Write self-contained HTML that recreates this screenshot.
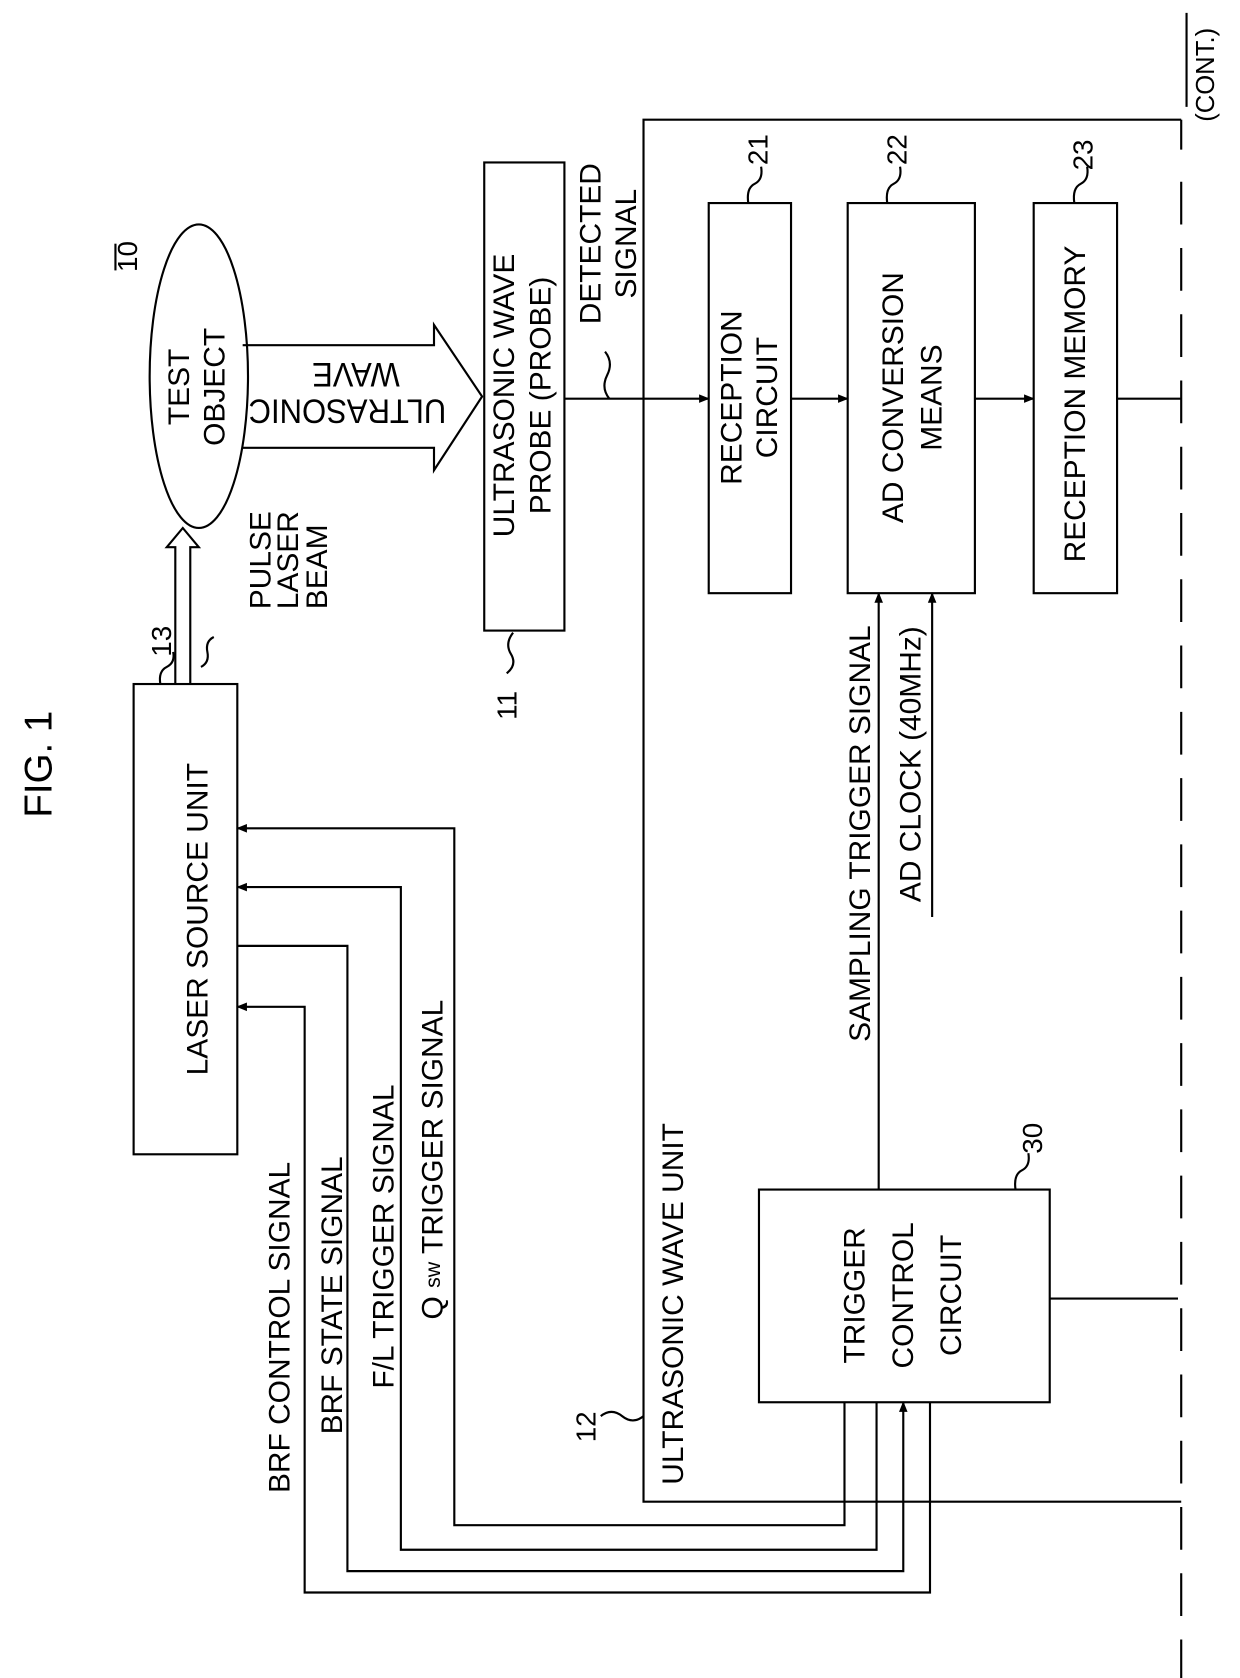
<!DOCTYPE html>
<html><head><meta charset="utf-8"><style>body{margin:0;background:#fff}svg{display:block}text{font-family:"Liberation Sans",Arial,sans-serif;fill:#000}</style></head><body>
<svg width="1240" height="1678" viewBox="0 0 1160 1570" preserveAspectRatio="none" xmlns="http://www.w3.org/2000/svg">
<defs><marker id="a" markerWidth="10" markerHeight="10" refX="9" refY="5" orient="auto" markerUnits="userSpaceOnUse"><path d="M0,1 L10,5 L0,9 z" fill="#000"/></marker></defs>
<g fill="none" stroke="#000" stroke-width="2">
<rect x="125" y="640" width="97" height="440"/>
<ellipse cx="186" cy="352" rx="46" ry="142"/>
<rect x="453" y="152" width="75" height="438"/>
<rect x="663" y="190" width="77" height="365"/>
<rect x="793" y="190" width="119" height="365"/>
<rect x="967" y="190" width="78" height="365"/>
<rect x="710" y="1113" width="272" height="199"/>
<path d="M164,640 L164,512 L156,512 L171,494 L186,512 L178,512 L178,640"/>
<path d="M227,323 L406,323 L406,304 L451,371 L406,440 L406,419 L227,419"/>
<path d="M1105,112 L602,112 L602,1405 L1105,1405"/>
<line x1="528" y1="373" x2="663" y2="373" marker-end="url(#a)"/>
<line x1="740" y1="373" x2="793" y2="373" marker-end="url(#a)"/>
<line x1="912" y1="373" x2="967" y2="373" marker-end="url(#a)"/>
<line x1="1045" y1="373" x2="1105" y2="373"/>
<line x1="822" y1="1113" x2="822" y2="555" marker-end="url(#a)"/>
<line x1="872" y1="858" x2="872" y2="555" marker-end="url(#a)"/>
<line x1="982" y1="1215" x2="1102" y2="1215"/>
<path d="M790,1312 L790,1427 L425,1427 L425,775 L222,775" marker-end="url(#a)"/>
<path d="M820,1312 L820,1450 L375,1450 L375,830 L222,830" marker-end="url(#a)"/>
<path d="M222,885 L325,885 L325,1470 L845,1470 L845,1312" marker-end="url(#a)"/>
<path d="M870,1312 L870,1490 L285,1490 L285,942 L222,942" marker-end="url(#a)"/>
<line x1="1105" y1="170" x2="1105" y2="1570" stroke-dasharray="40,22"/>
<line x1="1110" y1="12" x2="1110" y2="100"/>
<line x1="1105" y1="112" x2="1105" y2="140"/>
<path d="M150,640 q-2,-12 6,-16 q8,-4 6,-14"/>
<path d="M200,596 q-8,4 -6,14 q2,10 -6,14"/>
<path d="M480,592 q-8,10 -2,20 q6,10 -4,18"/>
<path d="M570,373 q-8,-10 -2,-22 q6,-12 -2,-22"/>
<path d="M700,190 q-2,-14 6,-18 q8,-4 6,-16"/>
<path d="M830,190 q-2,-14 6,-18 q8,-4 6,-16"/>
<path d="M1005,190 q-2,-14 6,-18 q8,-4 6,-16"/>
<path d="M950,1113 q-2,-14 6,-18 q8,-4 6,-16"/>
<path d="M602,1325 q-10,8 -20,0 q-10,-8 -20,0"/>
<line x1="108" y1="253" x2="108" y2="228"/>
</g>
<g font-size="28">
<text transform="translate(48,715) rotate(-90)" text-anchor="middle" font-size="36">FIG. 1</text>
<text transform="translate(128,240) rotate(-90)" text-anchor="middle" font-size="26">10</text>
<text transform="translate(160,600) rotate(-90)" text-anchor="middle" font-size="26">13</text>
<text transform="translate(483,660) rotate(-90)" text-anchor="middle" font-size="26">11</text>
<text transform="translate(718,140) rotate(-90)" text-anchor="middle" font-size="26">21</text>
<text transform="translate(848,140) rotate(-90)" text-anchor="middle" font-size="26">22</text>
<text transform="translate(1022,145) rotate(-90)" text-anchor="middle" font-size="26">23</text>
<text transform="translate(975,1065) rotate(-90)" text-anchor="middle" font-size="26">30</text>
<text transform="translate(557,1335) rotate(-90)" text-anchor="middle" font-size="26">12</text>
<text transform="translate(185,860) rotate(-90)" text-anchor="middle" dominant-baseline="central">LASER SOURCE UNIT</text>
<text transform="translate(168,362) rotate(-90)" text-anchor="middle" dominant-baseline="central">TEST</text>
<text transform="translate(201,362) rotate(-90)" text-anchor="middle" dominant-baseline="central">OBJECT</text>
<text transform="translate(325,384) rotate(180)" text-anchor="middle" dominant-baseline="central" font-size="32" textLength="185" lengthAdjust="spacingAndGlyphs">ULTRASONIC</text>
<text transform="translate(333,350) rotate(180)" text-anchor="middle" dominant-baseline="central" font-size="32" textLength="82" lengthAdjust="spacingAndGlyphs">WAVE</text>
<text transform="translate(244,570) rotate(-90)" text-anchor="start" dominant-baseline="central">PULSE</text>
<text transform="translate(270,570) rotate(-90)" text-anchor="start" dominant-baseline="central">LASER</text>
<text transform="translate(297,570) rotate(-90)" text-anchor="start" dominant-baseline="central">BEAM</text>
<text transform="translate(472,370) rotate(-90)" text-anchor="middle" dominant-baseline="central">ULTRASONIC WAVE</text>
<text transform="translate(506,370) rotate(-90)" text-anchor="middle" dominant-baseline="central">PROBE (PROBE)</text>
<text transform="translate(553,228) rotate(-90)" text-anchor="middle" dominant-baseline="central">DETECTED</text>
<text transform="translate(586,228) rotate(-90)" text-anchor="middle" dominant-baseline="central">SIGNAL</text>
<text transform="translate(685,372) rotate(-90)" text-anchor="middle" dominant-baseline="central">RECEPTION</text>
<text transform="translate(718,372) rotate(-90)" text-anchor="middle" dominant-baseline="central">CIRCUIT</text>
<text transform="translate(836,372) rotate(-90)" text-anchor="middle" dominant-baseline="central">AD CONVERSION</text>
<text transform="translate(872,372) rotate(-90)" text-anchor="middle" dominant-baseline="central">MEANS</text>
<text transform="translate(1006,378) rotate(-90)" text-anchor="middle" dominant-baseline="central">RECEPTION MEMORY</text>
<text transform="translate(805,780) rotate(-90)" text-anchor="middle" dominant-baseline="central">SAMPLING TRIGGER SIGNAL</text>
<text transform="translate(852,715) rotate(-90)" text-anchor="middle" dominant-baseline="central">AD CLOCK (40MHz)</text>
<text transform="translate(262,1242) rotate(-90)" text-anchor="middle" dominant-baseline="central">BRF CONTROL SIGNAL</text>
<text transform="translate(311,1212) rotate(-90)" text-anchor="middle" dominant-baseline="central">BRF STATE SIGNAL</text>
<text transform="translate(359,1157) rotate(-90)" text-anchor="middle" dominant-baseline="central">F/L TRIGGER SIGNAL</text>
<text transform="translate(405,1085) rotate(-90)" text-anchor="middle" dominant-baseline="central">Q <tspan font-size="20">sw</tspan> TRIGGER SIGNAL</text>
<text transform="translate(630,1220) rotate(-90)" text-anchor="middle" dominant-baseline="central">ULTRASONIC WAVE UNIT</text>
<text transform="translate(800,1212) rotate(-90)" text-anchor="middle" dominant-baseline="central">TRIGGER</text>
<text transform="translate(845,1212) rotate(-90)" text-anchor="middle" dominant-baseline="central">CONTROL</text>
<text transform="translate(890,1212) rotate(-90)" text-anchor="middle" dominant-baseline="central">CIRCUIT</text>
<text transform="translate(1128,70) rotate(-90)" text-anchor="middle" dominant-baseline="central" font-size="24">(CONT.)</text>
</g>
</svg>
</body></html>
